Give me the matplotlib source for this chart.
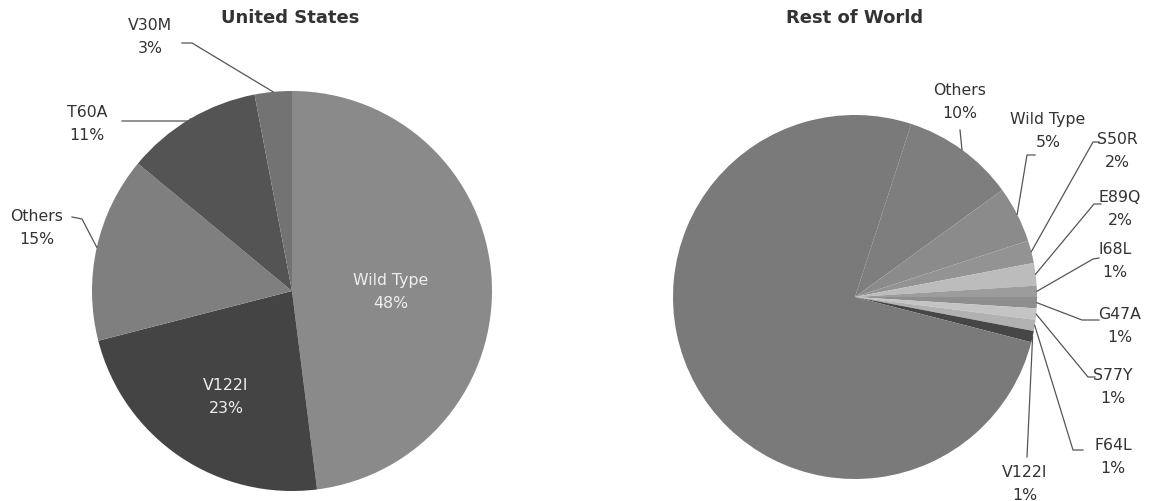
import numpy as np
import matplotlib.pyplot as plt

plt.rcParams['font.family'] = ['DejaVu Sans']

# United States
us_labels = ["Wild Type", "V122I", "Others", "T60A", "V30M"]
us_values = [48, 23, 15, 11, 3]
us_colors = ["#8a8a8a", "#444444", "#7f7f7f", "#545454", "#737373"]

# Rest of World
row_labels = ["Others", "Wild Type", "S50R", "E89Q", "I68L", "G47A",
              "S77Y", "F64L", "V122I", "V30M"]
row_values = [10, 5, 2, 2, 1, 1, 1, 1, 1, 76]
row_colors = ["#7e7e7e", "#8b8b8b", "#939393", "#bcbcbc", "#9c9c9c",
              "#8e8e8e", "#c4c4c4", "#b1b1b1", "#464646", "#7a7a7a"]

W, H = 1157, 501
fig = plt.figure(figsize=(W / 100, H / 100), dpi=100)
ax = fig.add_axes([0, 0, 1, 1])


def py(y):
    # screen-style y (from top) to axis y
    return H - y


def draw_pie(values, colors, center, radius, startangle):
    wedges, _ = ax.pie(values, colors=colors, center=center, radius=radius,
                       startangle=startangle, counterclock=False,
                       wedgeprops=dict(linewidth=0))
    edges = []
    for w in wedges:
        mid = np.deg2rad((w.theta1 + w.theta2) / 2)
        edges.append((center[0] + radius * np.cos(mid),
                      center[1] + radius * np.sin(mid)))
    return edges


us_center = (292, py(291))
row_center = (855, py(297))
us_edges = draw_pie(us_values, us_colors, us_center, 200, 90)
row_edges = draw_pie(row_values, row_colors, row_center, 182, 72)

txt = dict(ha="center", va="center", fontsize=11.3, color="#333333",
           linespacing=1.7)
line = dict(color="#555555", lw=0.9)


def outside(label, value, edge, text_xy, elbow, end):
    ax.text(text_xy[0], py(text_xy[1]), f"{label}\n{value}%", **txt)
    xs = [edge[0], elbow[0], end[0]]
    ys = [edge[1], py(elbow[1]), py(end[1])]
    ax.plot(xs, ys, **line)


# left pie: two labels inside the big slices
inside = dict(txt, color="#eeeeee")
ax.text(391, py(292), f"{us_labels[0]}\n{us_values[0]}%", **inside)
ax.text(226, py(397), f"{us_labels[1]}\n{us_values[1]}%", **inside)

us_layout = {
    "Others": ((37, 228), (82, 219), (72, 217)),
    "T60A": ((87, 124), (190, 121), (122, 121)),
    "V30M": ((150, 37), (192, 43), (182, 43)),
}
for i, lab in enumerate(us_labels):
    if lab in us_layout:
        t, e, n = us_layout[lab]
        outside(lab, us_values[i], us_edges[i], t, e, n)

row_layout = {
    "Others": ((960, 102), (960, 130), (960, 130)),
    "Wild Type": ((1048, 131), (1027, 155), (1035, 155)),
    "S50R": ((1117, 151), (1093, 142), (1099, 142)),
    "E89Q": ((1120, 209), (1094, 204), (1101, 204)),
    "I68L": ((1115, 261), (1093, 259), (1099, 258)),
    "G47A": ((1120, 326), (1082, 320), (1099, 320)),
    "S77Y": ((1113, 387), (1088, 377), (1095, 377)),
    "F64L": ((1113, 457), (1073, 450), (1083, 450)),
    "V122I": ((1025, 484), (1027, 457), (1027, 457)),
}
for i, lab in enumerate(row_labels):
    if lab in row_layout:
        t, e, n = row_layout[lab]
        outside(lab, row_values[i], row_edges[i], t, e, n)

ax.text(290, py(18), "United States", ha="center", va="center",
        fontsize=13, fontweight="bold", color="#333333")
ax.text(855, py(18), "Rest of World", ha="center", va="center",
        fontsize=13, fontweight="bold", color="#333333")

ax.set_xlim(0, W)
ax.set_ylim(0, H)
ax.set_aspect("auto")
ax.axis("off")

fig.savefig("out.png", dpi=100)
